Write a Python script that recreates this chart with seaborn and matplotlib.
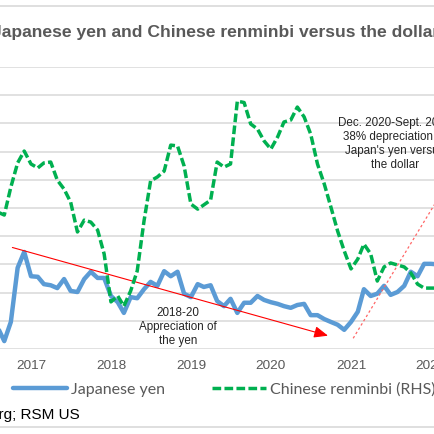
import matplotlib.pyplot as plt
import matplotlib.dates as mdates
import pandas as pd
import seaborn as sns
from matplotlib.lines import Line2D

# ------------------------------------------------------------
# data (monthly)
# ------------------------------------------------------------
months = pd.date_range('2016-08-01', '2022-02-01', freq='MS')

# yen per dollar (left axis)
yen = [103.9, 101.4, 104.8, 114.4, 117.2,
       112.9, 112.8, 111.5, 111.3, 110.8, 112.4, 110.3, 110.1, 112.4, 113.7, 112.6, 112.6,
       109.4, 108.3, 106.4, 109.2, 109.0, 110.6, 111.9, 111.2, 113.8, 112.9, 113.7, 109.8,
       109.2, 111.5, 111.0, 111.3, 108.5, 107.6, 108.9, 106.4, 108.2, 108.2, 109.4, 108.7,
       108.3, 108.0, 107.6, 107.3, 107.8, 108.0, 106.0, 106.0, 105.3, 104.8, 104.3, 103.4,
       104.8, 106.6, 110.6, 109.4, 109.8, 111.2, 109.6, 110.1, 111.2, 113.7, 112.9, 115.1,
       115.1, 115.0]

# renminbi per dollar (right axis)
renminbi = [6.686, 6.675, 6.774, 6.860, 6.902,
            6.856, 6.842, 6.860, 6.863, 6.799, 6.767, 6.721, 6.615, 6.657, 6.650, 6.622, 6.537,
            6.367, 6.388, 6.352, 6.406, 6.477, 6.654, 6.796, 6.810, 6.831, 6.923, 6.920, 6.849,
            6.714, 6.696, 6.711, 6.728, 6.863, 6.845, 6.856, 7.079, 7.074, 6.998, 6.980, 6.938,
            6.909, 6.952, 7.005, 7.012, 7.058, 7.023, 6.962, 6.856, 6.785, 6.704, 6.618, 6.548,
            6.484, 6.519, 6.572, 6.537, 6.441, 6.491, 6.505, 6.498, 6.491, 6.470, 6.430, 6.416,
            6.416, 6.416]

df = pd.DataFrame({'date': months, 'yen': yen, 'renminbi': renminbi})

blue = '#5B9BD5'
green = '#00B050'
grey = '#595959'
grid = '#D9D9D9'
dash = (0, (2.5, 0.95))

sns.set_style('white')
plt.rcParams['font.family'] = ['Liberation Sans', 'DejaVu Sans']

# ------------------------------------------------------------
# figure / axes (the picture is a crop, axes run past the edges)
# ------------------------------------------------------------
fig = plt.figure(figsize=(4.35, 4.35), dpi=100)
ax = fig.add_axes([0, 85 / 435, 1, 282 / 435])
ax2 = ax.twinx()

sns.lineplot(data=df, x='date', y='yen', ax=ax, color=blue, lw=3.2)
sns.lineplot(data=df, x='date', y='renminbi', ax=ax2, color=green, lw=2.5,
             linestyle=dash)

jan17 = pd.Timestamp('2017-01-01')
ax.set_xlim(jan17 - pd.Timedelta(days=31 / 80 * 365.25),
            jan17 + pd.Timedelta(days=404 / 80 * 365.25))
ax.set_ylim(100, 150)
ax.set_yticks(range(100, 151, 5))
ax2.set_ylim(6.2, 7.2)
ax2.set_yticks([])

ax.grid(axis='y', color=grid, lw=1.1)
ax.set_axisbelow(True)
ax.xaxis.set_major_locator(mdates.YearLocator())
ax.xaxis.set_major_formatter(mdates.DateFormatter('%Y'))
ax.tick_params(axis='x', length=0, pad=7, labelsize=9.7, labelcolor=grey)
ax.tick_params(axis='y', left=False, labelleft=False)
ax.set_xlabel('')
ax.set_ylabel('')
ax2.set_ylabel('')
for a in (ax, ax2):
    for s in a.spines.values():
        s.set_visible(False)

# ------------------------------------------------------------
# annotations
# ------------------------------------------------------------
ax.annotate('', xy=(pd.Timestamp('2020-09-18'), 102.36),
            xytext=(pd.Timestamp('2016-10-08'), 118.0),
            arrowprops=dict(arrowstyle='-|>,head_length=0.6,head_width=0.25',
                            color='red', lw=0.8, mutation_scale=14,
                            shrinkA=0, shrinkB=0))
ax.plot([pd.Timestamp('2021-01-11'), pd.Timestamp('2022-01-20')], [101.9, 125.8],
        color='#FF6666', lw=0.9, ls=(0, (2, 2)))

ax.text(178 / 435, 0.0816, '2018-20\nAppreciation of\nthe yen', transform=ax.transAxes,
        ha='center', va='center', multialignment='center', fontsize=8.4,
        color='#262626', linespacing=1.2)
ax.text(395 / 435, 0.730, "Dec. 2020-Sept. 2022\n38% depreciation of\nJapan's yen versus\nthe dollar",
        transform=ax.transAxes, ha='center', va='center', multialignment='center',
        fontsize=8.4, color='#262626', linespacing=1.2)

# ------------------------------------------------------------
# title, legend, source, frame lines
# ------------------------------------------------------------
fig.text(215.3 / 435, 1 - 32 / 435, 'Japanese yen and Chinese renminbi versus the dollar',
         ha='center', va='center', fontsize=12.6, fontweight='bold', color=grey)

handles = [Line2D([], [], color=blue, lw=3.2),
           Line2D([], [], color=green, lw=2.5, ls=dash)]
leg = ax.legend(handles, ['Japanese yen', 'Chinese renminbi (RHS)'], ncol=2,
                loc='center left', bbox_to_anchor=(13 / 435, 1 - 390 / 435),
                bbox_transform=fig.transFigure, frameon=False, borderpad=0,
                borderaxespad=0, handlelength=3.4, handletextpad=0.25,
                columnspacing=2.9, prop={'family': 'Lato', 'size': 11.5})
for t in leg.get_texts():
    t.set_color(grey)

fig.text(80 / 435, 1 - 415 / 435, 'Source: Bloomberg; RSM US', ha='right', va='center',
         fontsize=11, color='black')

fig.add_artist(Line2D([0, 1], [1 - 7 / 435] * 2, color=grid, lw=1.2))
fig.add_artist(Line2D([0, 1], [1 - 428 / 435] * 2, color=grid, lw=1.2))

fig.savefig('out.png', dpi=100)
